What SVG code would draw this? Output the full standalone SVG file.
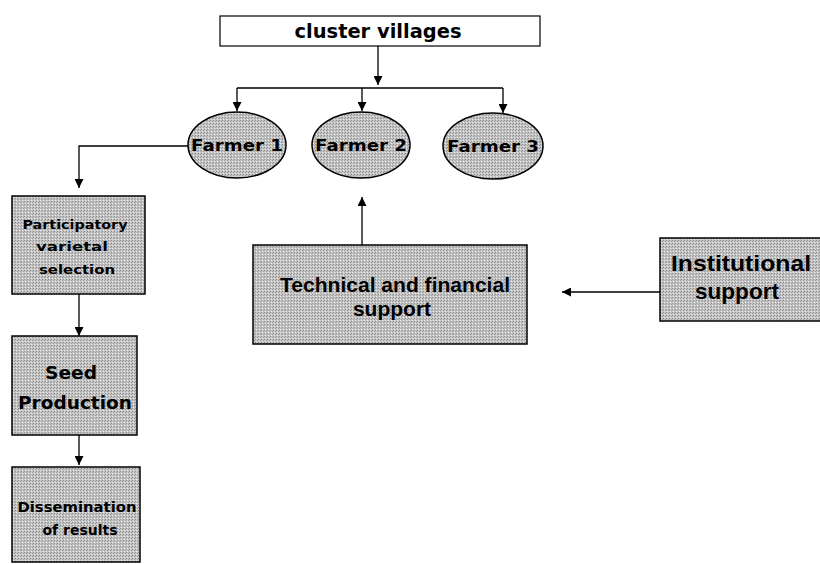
<svg xmlns="http://www.w3.org/2000/svg" width="820" height="564" viewBox="0 0 820 564">
<style>
.box{fill:url(#dither);stroke:#000;stroke-width:1.5}
.cv{fill:#fff;stroke:#000;stroke-width:1.2}
.ln{fill:none;stroke:#000;stroke-width:1.3}
.c{font-family:"DejaVu Sans",sans-serif;font-weight:bold;fill:#000;text-anchor:middle}
.a{font-family:"Liberation Sans",Arial,sans-serif;font-weight:bold;fill:#000;text-anchor:middle}
</style>
<defs>
<pattern id="dither" width="3" height="3" patternUnits="userSpaceOnUse">
<rect width="3" height="3" fill="#c4c4c4"/>
<rect x="0" y="0" width="1" height="1" fill="#8a8a8a"/>
<rect x="2" y="1" width="1" height="1" fill="#9c9c9c"/>
<rect x="1" y="2" width="1" height="1" fill="#e8e8e8"/>
</pattern>
<marker id="ah" viewBox="0 0 10 10" refX="10" refY="5" markerWidth="9" markerHeight="9" markerUnits="userSpaceOnUse" orient="auto">
<path d="M0,0 L10,5 L0,10 z" fill="#000"/>
</marker>
</defs>
<g id="connectors">
<path class="ln" d="M378,46 V85" marker-end="url(#ah)"/>
<path class="ln" d="M237,88 H503"/>
<path class="ln" d="M237,88 V111" marker-end="url(#ah)"/>
<path class="ln" d="M362,88 V111" marker-end="url(#ah)"/>
<path class="ln" d="M503,88 V113" marker-end="url(#ah)"/>
<path class="ln" d="M189,146 H79 V188" marker-end="url(#ah)"/>
<path class="ln" d="M79,294 V336" marker-end="url(#ah)"/>
<path class="ln" d="M79,435 V465" marker-end="url(#ah)"/>
<path class="ln" d="M362,245 V197" marker-end="url(#ah)"/>
<path class="ln" d="M660,292 H562" marker-end="url(#ah)"/>
</g>
<g id="cluster-villages">
<rect class="cv" x="220" y="16" width="320" height="30"/>
<text class="c" x="378" y="38" font-size="19" textLength="167" lengthAdjust="spacingAndGlyphs">cluster villages</text>
</g>
<g id="farmer-1">
<ellipse class="box" cx="237" cy="145" rx="49" ry="33"/>
<text class="c" x="237" y="151" font-size="15" textLength="92" lengthAdjust="spacingAndGlyphs">Farmer 1</text>
</g>
<g id="farmer-2">
<ellipse class="box" cx="361" cy="145" rx="49" ry="33"/>
<text class="c" x="361" y="151" font-size="15" textLength="92" lengthAdjust="spacingAndGlyphs">Farmer 2</text>
</g>
<g id="farmer-3">
<ellipse class="box" cx="493" cy="146" rx="50" ry="33"/>
<text class="c" x="493" y="152" font-size="15" textLength="92" lengthAdjust="spacingAndGlyphs">Farmer 3</text>
</g>
<g id="participatory">
<rect class="box" x="12" y="196" width="133" height="98"/>
<text class="c" x="75" y="229" font-size="13" textLength="105" lengthAdjust="spacingAndGlyphs">Participatory</text>
<text class="c" x="72" y="251" font-size="13" textLength="72" lengthAdjust="spacingAndGlyphs">varietal</text>
<text class="c" x="77" y="274" font-size="13" textLength="76" lengthAdjust="spacingAndGlyphs">selection</text>
</g>
<g id="seed-production">
<rect class="box" x="12" y="336" width="125" height="99"/>
<text class="c" x="71" y="379" font-size="18" textLength="52" lengthAdjust="spacingAndGlyphs">Seed</text>
<text class="c" x="75" y="409" font-size="18" textLength="114" lengthAdjust="spacingAndGlyphs">Production</text>
</g>
<g id="dissemination">
<rect class="box" x="12" y="467" width="128" height="95"/>
<text class="c" x="77" y="512" font-size="14" textLength="119" lengthAdjust="spacingAndGlyphs">Dissemination</text>
<text class="c" x="80" y="535" font-size="14" textLength="75" lengthAdjust="spacingAndGlyphs">of results</text>
</g>
<g id="technical">
<rect class="box" x="253" y="245" width="274" height="99"/>
<text class="a" x="395" y="292" font-size="21" textLength="230" lengthAdjust="spacingAndGlyphs">Technical and financial</text>
<text class="a" x="392" y="316" font-size="21">support</text>
</g>
<g id="institutional">
<rect class="box" x="660" y="238" width="164" height="83"/>
<text class="a" x="741" y="271" font-size="22" textLength="140" lengthAdjust="spacingAndGlyphs">Institutional</text>
<text class="a" x="737" y="299" font-size="22" textLength="84" lengthAdjust="spacingAndGlyphs">support</text>
</g>
</svg>
